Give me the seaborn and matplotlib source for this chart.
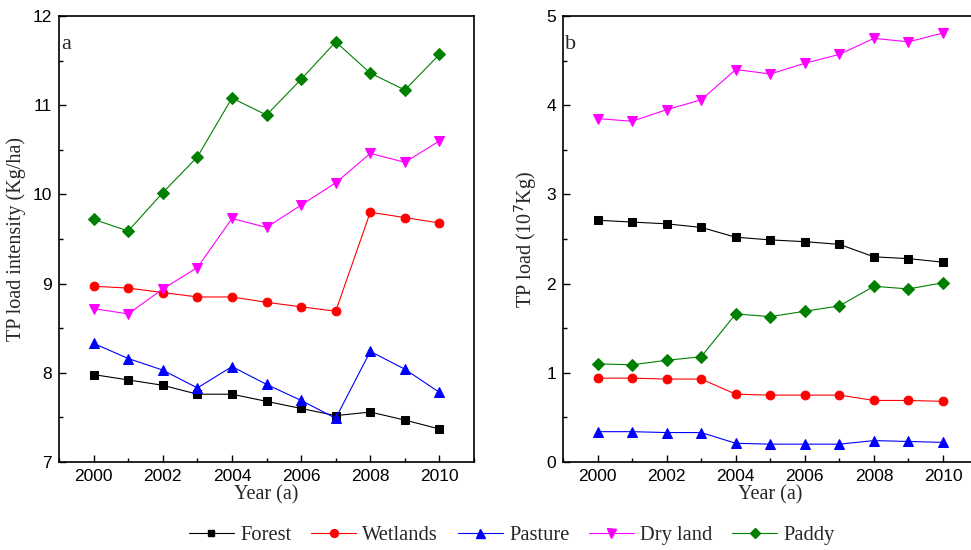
import matplotlib
matplotlib.use("Agg")
import matplotlib.pyplot as plt
from matplotlib.ticker import MultipleLocator
from matplotlib.lines import Line2D
import seaborn as sns
import pandas as pd

years = [2000, 2001, 2002, 2003, 2004, 2005, 2006, 2007, 2008, 2009, 2010]
land_types = ["Forest", "Wetlands", "Pasture", "Dry land", "Paddy"]

# (a) TP load intensity, Kg/ha
forest_a = [7.98, 7.92, 7.86, 7.76, 7.76, 7.68, 7.60, 7.52, 7.56, 7.47, 7.37]
wetlands_a = [8.97, 8.95, 8.90, 8.85, 8.85, 8.79, 8.74, 8.69, 9.80, 9.74, 9.68]
pasture_a = [8.33, 8.16, 8.03, 7.83, 8.07, 7.87, 7.69, 7.49, 8.24, 8.04, 7.78]
dryland_a = [8.72, 8.66, 8.94, 9.18, 9.73, 9.63, 9.88, 10.13, 10.46, 10.36, 10.60]
paddy_a = [9.72, 9.59, 10.02, 10.42, 11.08, 10.89, 11.29, 11.71, 11.36, 11.17, 11.57]

# (b) TP load, 10^7 Kg
forest_b = [2.71, 2.69, 2.67, 2.63, 2.52, 2.49, 2.47, 2.44, 2.30, 2.28, 2.24]
wetlands_b = [0.94, 0.94, 0.93, 0.93, 0.76, 0.75, 0.75, 0.75, 0.69, 0.69, 0.68]
pasture_b = [0.34, 0.34, 0.33, 0.33, 0.21, 0.20, 0.20, 0.20, 0.24, 0.23, 0.22]
dryland_b = [3.85, 3.82, 3.95, 4.06, 4.40, 4.35, 4.47, 4.57, 4.75, 4.71, 4.81]
paddy_b = [1.10, 1.09, 1.14, 1.18, 1.66, 1.63, 1.69, 1.75, 1.97, 1.94, 2.01]

colors = ["black", "red", "blue", "magenta", "green"]
markers = ["s", "o", "^", "v", "D"]
msizes = [5.5, 6.3, 7.2, 7.2, 5.8]

sns.set_theme(style="ticks")
plt.rcParams["font.family"] = ["Liberation Sans", "DejaVu Sans"]
serif = ["Liberation Serif", "DejaVu Serif"]

fig = plt.figure(figsize=(9.71, 5.5), dpi=100)
ax_a = fig.add_axes([0.0608, 0.16, 0.4274, 0.8109])
ax_b = fig.add_axes([0.5798, 0.16, 0.4270, 0.8109])


def draw_panel(ax, series, ylim, ylabel, letter):
    for name, vals, c, m, ms in zip(land_types, series, colors, markers, msizes):
        df = pd.DataFrame({"Year": years, "Value": vals})
        sns.lineplot(data=df, x="Year", y="Value", ax=ax, color=c, marker=m,
                     markersize=ms, markeredgecolor=c, linewidth=0.8,
                     label=name, legend=False)
    ax.set_xlim(1999, 2011)
    ax.set_ylim(*ylim)
    ax.xaxis.set_major_locator(MultipleLocator(2))
    ax.xaxis.set_minor_locator(MultipleLocator(1))
    ax.yaxis.set_major_locator(MultipleLocator(1))
    ax.yaxis.set_minor_locator(MultipleLocator(0.5))
    ax.tick_params(which="both", direction="in", top=False, right=False,
                   labelsize=12.5, colors="black")
    ax.tick_params(which="major", length=5, width=1, pad=5)
    ax.tick_params(which="minor", length=3, width=1)
    for sp in ax.spines.values():
        sp.set_linewidth(1.2)
        sp.set_color("black")
    ax.set_xlabel("Year (a)", family=serif, fontsize=14.5, labelpad=1)
    ax.set_ylabel(ylabel, family=serif, fontsize=14.5, labelpad=5)
    ax.text(0.005, 0.935, letter, transform=ax.transAxes, family=serif,
            fontsize=16, va="center", ha="left")


draw_panel(ax_a, [forest_a, wetlands_a, pasture_a, dryland_a, paddy_a],
           (7, 12), "TP load intensity (Kg/ha)", "a")
draw_panel(ax_b, [forest_b, wetlands_b, pasture_b, dryland_b, paddy_b],
           (0, 5), "TP load (10$^{7}$Kg)", "b")

handles = [Line2D([], [], color=c, marker=m, markersize=ms * 0.9, linewidth=0.8)
           for c, m, ms in zip(colors, markers, msizes)]
fig.legend(handles, land_types, loc="center", bbox_to_anchor=(0.527, 0.027),
           ncol=5, frameon=False, handlelength=2.2, columnspacing=0.95,
           handletextpad=0.3, prop={"family": serif, "size": 14.8})

fig.savefig("out.png", dpi=100)
